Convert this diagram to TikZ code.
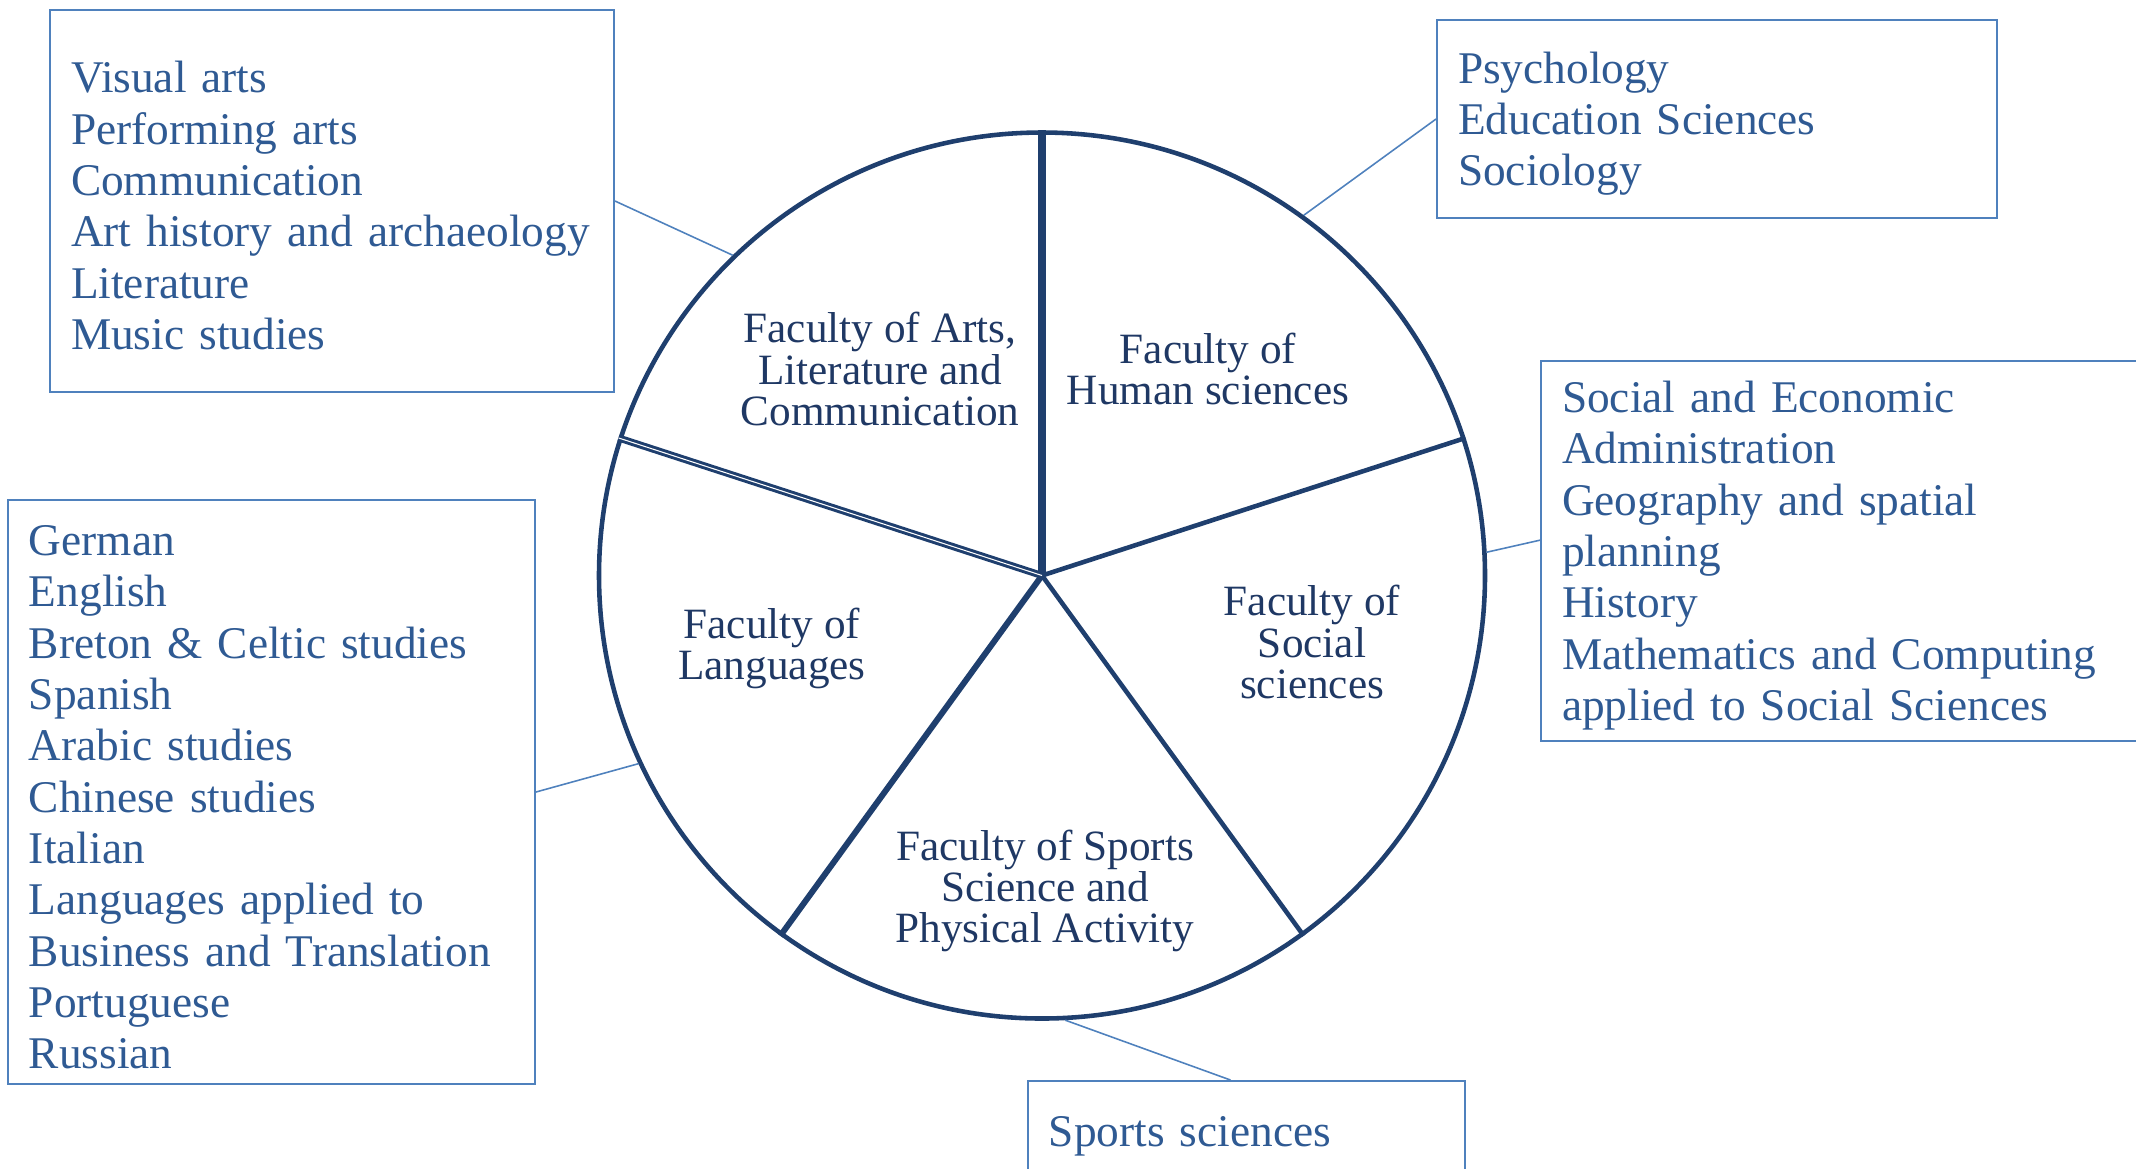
\documentclass[tikz,border=0pt]{standalone}
\usepackage{fontspec}
\setmainfont{Liberation Serif}
\usepackage{tikz}
\usepackage{xcolor}
\usetikzlibrary{positioning}
\definecolor{Pie Navy}{HTML}{1F3F6E}
\definecolor{Label Navy}{HTML}{1F3864}
\definecolor{List Blue}{HTML}{2F5A93}
\definecolor{Frame Blue}{HTML}{4F81BD}

\tikzset{
    listbox/.style={draw=Frame Blue, line width=0.55pt, text=List Blue, align=left,
        inner xsep=0.21cm, inner ysep=0pt, font=\fontsize{12.9}{14.6}\selectfont,
        execute at begin node={\rule{0pt}{11.6pt}}},
    pielabel/.style={text=Label Navy, align=center, font=\fontsize{12.3}{11.7}\selectfont},
    leader/.style={draw=Frame Blue, line width=0.45pt}
}

\begin{document}
\begin{tikzpicture}
    \useasboundingbox (0,0) rectangle (21.36,-11.68);
    \clip (0,0) rectangle (21.36,-11.68);

    % Pie with five faculties
    \node[circle, draw=Pie Navy, line width=1.3pt, minimum size=8.86cm, inner sep=0pt] (pie) at (10.42,-5.755) {};
    \foreach \ang/\wd in {90/2.3pt, 18/1.3pt, 306/1.3pt, 234/1.7pt} {
        \draw[Pie Navy, line width=\wd] (pie.center) -- (pie.\ang);
    }
    \draw[Pie Navy, line width=0.85pt, double=white, double distance=0.3pt] (pie.center) -- (pie.162);

    % Faculty names
    \node[pielabel] (arts) at (8.80,-3.69) {Faculty of Arts,\\Literature and\\Communication};
    \node[pielabel] (human) at (12.08,-3.69) {Faculty of\\Human sciences};
    \node[pielabel] (social) at (13.12,-6.42) {Faculty of\\Social\\sciences};
    \node[pielabel] (languages) at (7.72,-6.48) {Faculty of\\Languages};
    \node[pielabel] (sports) at (10.45,-8.91) {Faculty of Sports\\Science and\\Physical Activity};

    % Departments of each faculty
    \node[listbox, text width=5.22cm, minimum height=3.82cm] (artslist) at (3.32,-2.01)
        {Visual arts\\Performing arts\\Communication\\Art history and archaeology\\Literature\\Music studies};
    \node[listbox, text width=5.18cm, minimum height=1.98cm] (humanlist) at (17.17,-1.19)
        {Psychology\\Education Sciences\\Sociology};
    \node[listbox, text width=5.78cm, minimum height=3.80cm] (sociallist) at (18.51,-5.51)
        {Social and Economic\\Administration\\Geography and spatial\\planning\\History\\Mathematics and Computing\\applied to Social Sciences};
    \node[listbox, text width=4.85cm, minimum height=5.84cm] (languagelist) at (2.715,-7.92)
        {German\\English\\Breton \& Celtic studies\\Spanish\\Arabic studies\\Chinese studies\\Italian\\Languages applied to\\Business and Translation\\Portuguese\\Russian};
    \node[listbox, text width=3.95cm, minimum height=1.0cm, anchor=north west] (sportslist) at (10.27,-10.80)
        {Sports sciences};

    % Leader lines
    \draw[leader] (artslist.east) -- (pie.134);
    \draw[leader] (humanlist.west) -- (pie.54);
    \draw[leader] (sociallist.178) -- (pie.3);
    \draw[leader] (languagelist.east) -- (pie.205);
    \draw[leader] ([xshift=-0.16cm]sportslist.north) -- (pie.273);
\end{tikzpicture}
\end{document}
